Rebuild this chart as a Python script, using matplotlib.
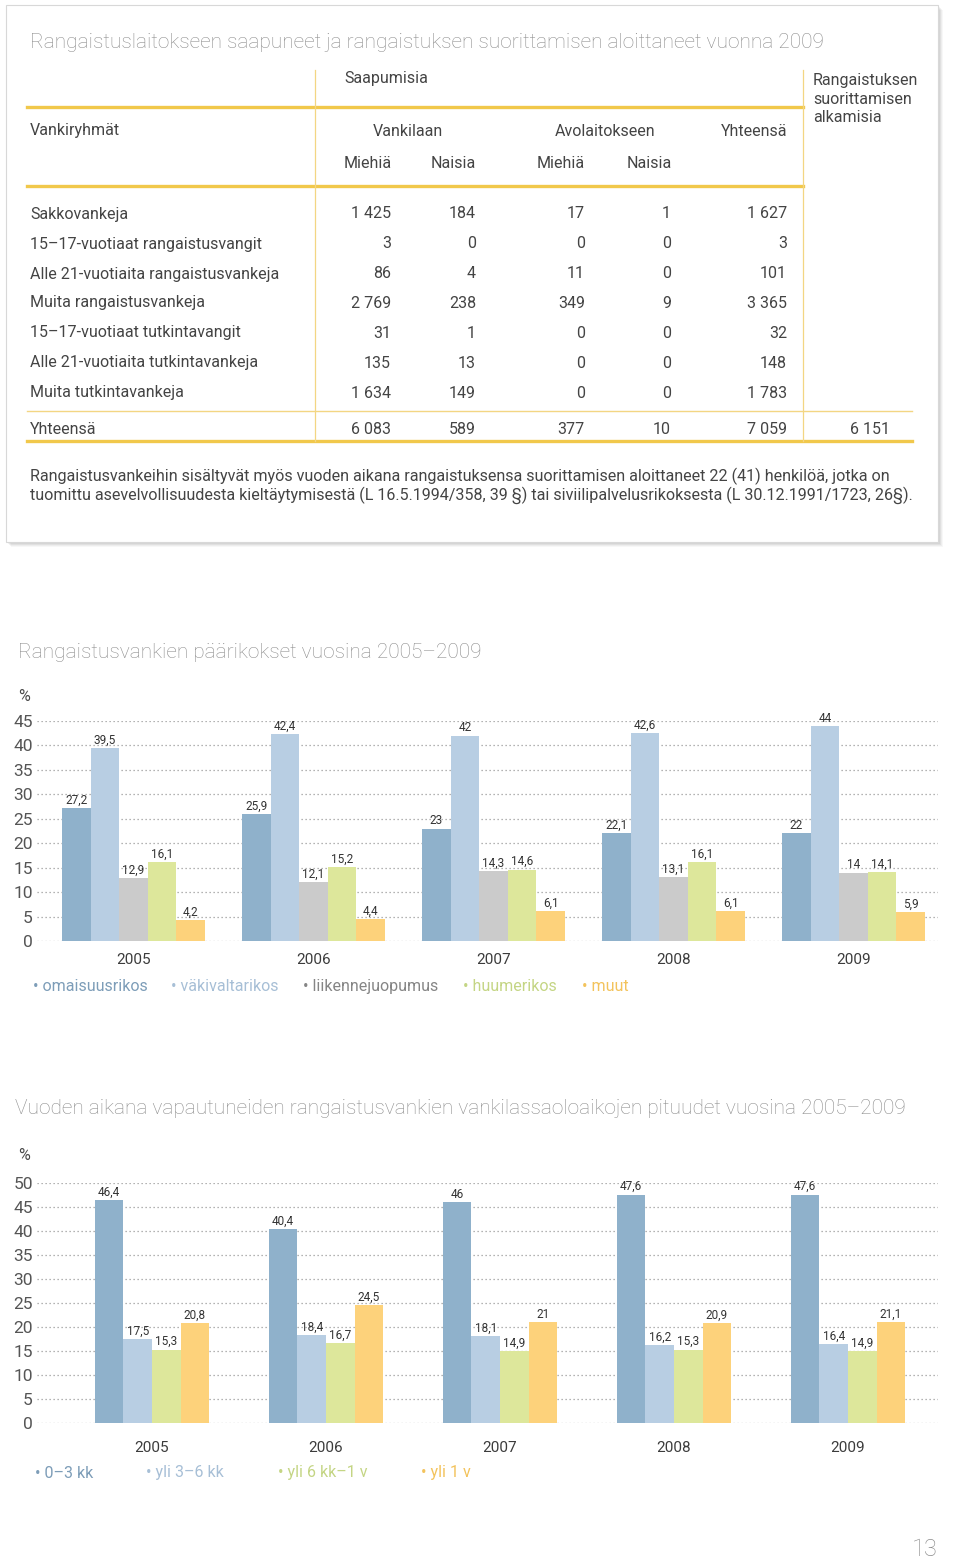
import matplotlib.pyplot as plt
from matplotlib.lines import Line2D
from matplotlib.patches import Rectangle

plt.rcParams['font.family'] = ['Roboto', 'DejaVu Sans']

# --- table data ---
row_labels = ['Sakkovankeja', '15–17-vuotiaat rangaistusvangit', 'Alle 21-vuotiaita rangaistusvankeja',
              'Muita rangaistusvankeja', '15–17-vuotiaat tutkintavangit', 'Alle 21-vuotiaita tutkintavankeja',
              'Muita tutkintavankeja']
vankilaan_miehia = [1425, 3, 86, 2769, 31, 135, 1634]
vankilaan_naisia = [184, 0, 4, 238, 1, 13, 149]
avo_miehia = [17, 0, 11, 349, 0, 0, 0]
avo_naisia = [1, 0, 0, 9, 0, 0, 0]
yhteensa = [1627, 3, 101, 3365, 32, 148, 1783]
totals = [6083, 589, 377, 10, 7059, 6151]

# --- chart 1 data ---
years = ['2005', '2006', '2007', '2008', '2009']
crime_names = ['omaisuusrikos', 'väkivaltarikos', 'liikennejuopumus', 'huumerikos', 'muut']
omaisuus = [27.2, 25.9, 23, 22.1, 22]
vakivalta = [39.5, 42.4, 42, 42.6, 44]
liikenne = [12.9, 12.1, 14.3, 13.1, 14]
huume = [16.1, 15.2, 14.6, 16.1, 14.1]
muut = [4.2, 4.4, 6.1, 6.1, 5.9]

# --- chart 2 data ---
time_names = ['0–3 kk', 'yli 3–6 kk', 'yli 6 kk–1 v', 'yli 1 v']
aika_0_3 = [46.4, 40.4, 46, 47.6, 47.6]
aika_3_6 = [17.5, 18.4, 18.1, 16.2, 16.4]
aika_6_12 = [15.3, 16.7, 14.9, 15.3, 14.9]
aika_yli1 = [20.8, 24.5, 21, 20.9, 21.1]

W, H = 960, 1559
fig = plt.figure(figsize=(9.6, 15.59), dpi=100)


def fx(x):
    return x / W


def fy(y):
    return 1 - y / H


def hline(y, x0, x1, lw, color):
    fig.add_artist(Line2D([fx(x0), fx(x1)], [fy(y), fy(y)], lw=lw, color=color))


def fmt_thousands(v):
    return f"{v:,}".replace(",", " ")


def fmt_dec(v):
    return f"{v:g}".replace(".", ",")


GOLD = '#f1c84b'
GOLD_THIN = '#f3d683'
TXT = '#444444'
GRAY_TITLE = '#8c8c8c'

# box with shadow
for i, a in enumerate([0.05, 0.05, 0.04, 0.03]):
    fig.add_artist(Rectangle((fx(6 + i + 2), fy(542 + i + 2)), fx(932), 537 / H,
                             facecolor='black', alpha=a, edgecolor='none'))
fig.add_artist(Rectangle((fx(6), fy(542)), fx(932), 537 / H,
                         facecolor='white', edgecolor='#d8d8d8', lw=0.8))

fig.text(fx(30), fy(42), 'Rangaistuslaitokseen saapuneet ja rangaistuksen suorittamisen aloittaneet vuonna 2009',
         fontsize=15, color=GRAY_TITLE, va='center', ha='left', fontweight='light')

fs = 11.5
fig.text(fx(344), fy(79), 'Saapumisia', fontsize=fs, color=TXT, va='center')
fig.text(fx(813), fy(99), 'Rangaistuksen\nsuorittamisen\nalkamisia', fontsize=fs, color=TXT, va='center',
         linespacing=1.3)
fig.text(fx(30), fy(131), 'Vankiryhmät', fontsize=fs, color=TXT, va='center')
fig.text(fx(408), fy(131), 'Vankilaan', fontsize=fs, color=TXT, va='center', ha='center')
fig.text(fx(605), fy(131), 'Avolaitokseen', fontsize=fs, color=TXT, va='center', ha='center')
fig.text(fx(787), fy(131), 'Yhteensä', fontsize=fs, color=TXT, va='center', ha='right')
for xc, lab in zip([368, 453, 561, 649], ['Miehiä', 'Naisia', 'Miehiä', 'Naisia']):
    fig.text(fx(xc), fy(164), lab, fontsize=fs, color=TXT, va='center', ha='center')

col_right = [391, 476, 585, 671, 787]
columns = [vankilaan_miehia, vankilaan_naisia, avo_miehia, avo_naisia, yhteensa]
row_y = [214, 244, 274, 303, 333, 363, 393]
for i, lab in enumerate(row_labels):
    fig.text(fx(30), fy(row_y[i]), lab, fontsize=fs, color=TXT, va='center')
    for xr, col in zip(col_right, columns):
        fig.text(fx(xr), fy(row_y[i]), fmt_thousands(col[i]), fontsize=fs, color=TXT, va='center', ha='right')

fig.text(fx(30), fy(429), 'Yhteensä', fontsize=fs, color=TXT, va='center')
for xr, v in zip(col_right + [890], totals):
    fig.text(fx(xr), fy(429), fmt_thousands(v), fontsize=fs, color=TXT, va='center', ha='right')

hline(107, 27, 803, 2.4, GOLD)
hline(186, 27, 803, 2.4, GOLD)
hline(411, 27, 912, 1.0, GOLD_THIN)
hline(441, 27, 912, 2.4, GOLD)
for xv in [315, 803]:
    fig.add_artist(Line2D([fx(xv), fx(xv)], [fy(70), fy(441)], lw=0.9, color=GOLD_THIN))

fig.text(fx(30), fy(486),
         'Rangaistusvankeihin sisältyvät myös vuoden aikana rangaistuksensa suorittamisen aloittaneet 22 (41) henkilöä, jotka on\n'
         'tuomittu asevelvollisuudesta kieltäytymisestä (L 16.5.1994/358, 39 §) tai siviilipalvelusrikoksesta (L 30.12.1991/1723, 26§).',
         fontsize=11.6, color=TXT, va='center', linespacing=1.15)

BLUE_D = '#8fb1cb'
BLUE_L = '#b8cee3'
GREY = '#cbcbcb'
GREEN = '#dde79b'
ORANGE = '#fdd27b'


def bar_chart(top_px, bot_px, ymax, series, colors, spacing, center0, title, title_xy, pct_y, year_pad,
              leg_names, leg_x, leg_y, leg_colors):
    ax = fig.add_axes([fx(37), fy(bot_px), fx(938) - fx(37), (bot_px - top_px) / H])
    w = 28.6 / spacing
    n = len(series)
    x0 = -(center0 - 37) / spacing
    ax.set_xlim(x0, x0 + 901 / spacing)
    ax.set_ylim(0, ymax)
    for j, (vals, c) in enumerate(zip(series, colors)):
        xs = [i + (j - (n - 1) / 2) * w for i in range(len(vals))]
        ax.bar(xs, vals, width=w, color=c, zorder=3, linewidth=0)
        for xv, v in zip(xs, vals):
            ax.annotate(fmt_dec(v), (xv, v), xytext=(0, 1), textcoords='offset points',
                        ha='center', va='bottom', fontsize=8.5, color='#333333', zorder=4)
    ax.set_yticks(range(0, ymax + 1, 5))
    ax.set_xticks(range(len(years)))
    ax.set_xticklabels(years)
    ax.yaxis.grid(True, linestyle=(0, (1, 2.2)), color='#9a9a9a', lw=0.9, zorder=0)
    ax.set_axisbelow(True)
    for s in ax.spines.values():
        s.set_visible(False)
    ax.tick_params(axis='y', length=0, pad=3, labelsize=12.5, labelcolor='#555555')
    ax.tick_params(axis='x', length=0, pad=year_pad, labelsize=11, labelcolor='#3c3c3c')
    fig.text(fx(title_xy[0]), fy(title_xy[1]), title, fontsize=15, color=GRAY_TITLE, va='center',
             fontweight='light')
    fig.text(fx(18), fy(pct_y), '%', fontsize=11.5, color='#4a4a4a', va='center')
    for name, lx, lc in zip(leg_names, leg_x, leg_colors):
        fig.text(fx(lx), fy(leg_y), '• ' + name, fontsize=11.5, color=lc, va='center')
    return ax


bar_chart(721, 941, 45, [omaisuus, vakivalta, liikenne, huume, muut],
          [BLUE_D, BLUE_L, GREY, GREEN, ORANGE], 180, 133.5,
          'Rangaistusvankien päärikokset vuosina 2005–2009', (18, 653), 697, 8.5,
          crime_names, [33, 171, 303, 463, 582], 986,
          ['#7d9db8', '#a7bfd6', '#858585', '#c4d584', '#f3c35c'])

bar_chart(1183, 1423, 50, [aika_0_3, aika_3_6, aika_6_12, aika_yli1],
          [BLUE_D, BLUE_L, GREEN, ORANGE], 174, 152,
          'Vuoden aikana vapautuneiden rangaistusvankien vankilassaoloaikojen pituudet vuosina 2005–2009',
          (15, 1109), 1156, 13,
          time_names, [35, 146, 278, 421], 1473,
          ['#7d9db8', '#a7bfd6', '#c4d584', '#f3c35c'])

fig.text(fx(938), fy(1550), '13', fontsize=17, color='#8c8c8c', va='center', ha='right', fontweight='light')

fig.savefig('out.png', dpi=100)
